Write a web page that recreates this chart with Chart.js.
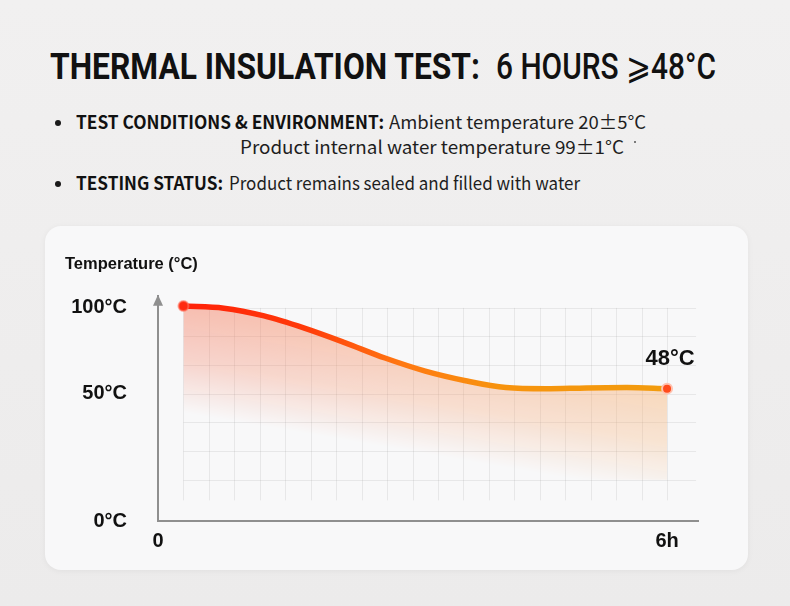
<!DOCTYPE html>
<html>
<head>
<meta charset="utf-8">
<script src="https://cdn.jsdelivr.net/npm/chart.js@4.4.1/dist/chart.umd.min.js"></script>
<style>
  html, body { margin: 0; padding: 0; }
  body {
    width: 790px; height: 606px; overflow: hidden; position: relative;
    background: linear-gradient(#f1f0f0, #ecebeb);
    font-family: "Noto Sans CJK SC", "Noto Sans", sans-serif;
  }
  .line { position: absolute; white-space: nowrap; transform-origin: 0 0; line-height: 1; }
  .ttl { top: 48px; font-family: Roboto, sans-serif; font-size: 37px; color: #111; }
  .txt { font-size: 18px; color: #1e1e1e; }
  .txt.b { font-weight: 700; color: #111; }
  .dot { position: absolute; width: 6px; height: 6px; border-radius: 50%; background: #1a1a1a; }
  .speck { position: absolute; width: 2px; height: 2px; border-radius: 50%; background: #555; }
  #panel {
    position: absolute; left: 45px; top: 226px; width: 703px; height: 344px;
    background: #f8f8f9; border-radius: 16px;
    box-shadow: 0 1px 6px rgba(0,0,0,0.05);
  }
  #chart { position: absolute; left: 0; top: 0; }
</style>
</head>
<body>
<div id="t1" class="line ttl" style="left:50px; font-weight:700;">THERMAL INSULATION TEST:</div>
<div id="t2" class="line ttl" style="left:496px; font-weight:500;">6 HOURS ⩾48°C</div>

<div class="dot" style="left:55px; top:120px;"></div>
<div id="b1a" class="line txt b" style="left:76px; top:112px;">TEST CONDITIONS &amp; ENVIRONMENT:</div>
<div id="b1b" class="line txt" style="left:389px; top:112px;">Ambient temperature 20±5°C</div>
<div id="b2" class="line txt" style="left:240px; top:137px;">Product internal water temperature 99±1°C</div>
<div class="speck" style="left:634px; top:141px;"></div>
<div class="dot" style="left:55px; top:181px;"></div>
<div id="b3a" class="line txt b" style="left:76px; top:173px;">TESTING STATUS:</div>
<div id="b3b" class="line txt" style="left:229px; top:173px;">Product remains sealed and filled with water</div>

<div id="panel"><canvas id="chart" width="703" height="344"></canvas></div>

<script>
// readings (hours, °C as drawn)
const hours = [0, 0.5, 1, 1.5, 2, 2.5, 3, 3.5, 4, 4.5, 5, 5.5, 6];
const temps = [101, 99.8, 95.3, 88.2, 79.8, 70.8, 63.2, 57.6, 53.6, 52.9, 53.4, 53.6, 53];
const endLabel = '48°C';

// axis bounds: the drawn axes start one grid step left / ~24° below the grid
const X_MIN = -6 / 19, X_MAX = 6.384;
const Y_MIN = -24, Y_MAX = 107;
const xTickValues = [X_MIN, 6];
const xTickLabels = ['0', '6h'];
const yTickValues = [Y_MIN, 50, 100];
const yTickLabels = ['0°C', '50°C', '100°C'];

// light grid behind the curve
const gridHours = Array.from({ length: 20 }, (_, k) => k * 6 / 19);
const gridTemps = Array.from({ length: 7 }, (_, k) => 100 - k * 50 / 3);

const AXIS_GRAY = '#8f8f8f';
const LABEL_FONT = { family: 'Liberation Sans, Arial, sans-serif', size: 20, weight: 'bold' };

// fit page text widths to the reference
function fit(id, target) {
  const el = document.getElementById(id);
  el.style.transform = 'none';
  const w = el.getBoundingClientRect().width;
  el.style.transform = 'scaleX(' + (target / w) + ')';
}
function fitAll() {
  fit('t1', 430);
  fit('t2', 220);
  fit('b1a', 308);
  fit('b1b', 257);
  fit('b2', 384);
  fit('b3a', 147);
  fit('b3b', 351);
}
fitAll();
if (document.fonts) document.fonts.ready.then(fitAll);

function lineGradient(chart) {
  const { ctx, chartArea } = chart;
  if (!chartArea) return '#ff5a10';
  const xs = chart.scales.x;
  const g = ctx.createLinearGradient(xs.getPixelForValue(0), 0, xs.getPixelForValue(6), 0);
  g.addColorStop(0, '#ff2008');
  g.addColorStop(0.25, '#ff3a0a');
  g.addColorStop(0.45, '#ff7812');
  g.addColorStop(0.65, '#f7930e');
  g.addColorStop(1, '#f29c0e');
  return g;
}

let fillPattern = null;
function fillGradient(chart) {
  const { chartArea } = chart;
  if (!chartArea) return 'transparent';
  if (fillPattern) return fillPattern;
  const xs = chart.scales.x, ys = chart.scales.y;
  const xL = xs.getPixelForValue(0), xR = xs.getPixelForValue(6);
  const yL = ys.getPixelForValue(temps[0]), yR = ys.getPixelForValue(temps[temps.length - 1]);
  const off = document.createElement('canvas');
  off.width = chart.width; off.height = chart.height;
  const c = off.getContext('2d');
  // hue: reddish on the left, orange on the right
  const hue = c.createLinearGradient(xL, 0, xR, 0);
  hue.addColorStop(0, 'rgba(245,115,85,1)');
  hue.addColorStop(0.5, 'rgba(247,150,100,1)');
  hue.addColorStop(1, 'rgba(247,175,110,1)');
  c.fillStyle = hue;
  c.fillRect(0, 0, off.width, off.height);
  // fade perpendicular to the line joining the two ends
  const s = (yR - yL) / (xR - xL);
  const n = Math.sqrt(1 + s * s);
  const mx = (xL + xR) / 2, my = (yL + yR) / 2;
  const len = 105;
  const a = c.createLinearGradient(mx, my, mx - s / n * len, my + len / n);
  a.addColorStop(0, 'rgba(0,0,0,0.44)');
  a.addColorStop(0.5, 'rgba(0,0,0,0.28)');
  a.addColorStop(1, 'rgba(0,0,0,0)');
  c.globalCompositeOperation = 'destination-in';
  c.fillStyle = a;
  c.fillRect(0, 0, off.width, off.height);
  fillPattern = chart.ctx.createPattern(off, 'no-repeat');
  return fillPattern;
}

const gridPlugin = {
  id: 'lightGrid',
  beforeDatasetsDraw(chart) {
    const { ctx } = chart;
    const xs = chart.scales.x, ys = chart.scales.y;
    ctx.save();
    ctx.strokeStyle = 'rgba(0,0,0,0.065)';
    ctx.lineWidth = 1;
    const yTop = ys.getPixelForValue(100), yBot = ys.getPixelForValue(-12);
    gridHours.forEach(h => {
      const px = Math.round(xs.getPixelForValue(h)) + 0.5;
      ctx.beginPath(); ctx.moveTo(px, yTop); ctx.lineTo(px, yBot); ctx.stroke();
    });
    const xLeft = xs.getPixelForValue(0), xRight = xs.getPixelForValue(6.36);
    gridTemps.forEach(t => {
      const py = Math.round(ys.getPixelForValue(t)) + 0.5;
      ctx.beginPath(); ctx.moveTo(xLeft, py); ctx.lineTo(xRight, py); ctx.stroke();
    });
    ctx.restore();
  }
};

const decorPlugin = {
  id: 'decor',
  afterDraw(chart) {
    const { ctx, chartArea } = chart;
    const xs = chart.scales.x, ys = chart.scales.y;
    ctx.save();
    // arrow head on the y axis
    ctx.fillStyle = AXIS_GRAY;
    ctx.beginPath();
    ctx.moveTo(chartArea.left, chartArea.top - 1);
    ctx.lineTo(chartArea.left - 5, chartArea.top + 10);
    ctx.lineTo(chartArea.left + 5, chartArea.top + 10);
    ctx.closePath();
    ctx.fill();
    // end value label
    const last = temps.length - 1;
    ctx.fillStyle = '#111';
    ctx.font = 'bold 22px "Liberation Sans", Arial, sans-serif';
    ctx.textAlign = 'center';
    ctx.textBaseline = 'middle';
    ctx.fillText(endLabel, xs.getPixelForValue(hours[last]) + 3, ys.getPixelForValue(temps[last]) - 30);
    ctx.restore();
  }
};

const pointR = temps.map((_, i) => (i === 0 || i === temps.length - 1) ? 5 : 0);
const pointFill = temps.map((_, i) => i === 0 ? '#ff2a10' : '#ff4b1c');
const pointEdge = temps.map((_, i) => i === 0 ? 'rgba(255,120,100,0.6)' : '#ffc2b0');

new Chart(document.getElementById('chart'), {
  type: 'line',
  data: {
    datasets: [{
      data: hours.map((h, i) => ({ x: h, y: temps[i] })),
      borderColor: ctx => lineGradient(ctx.chart),
      backgroundColor: ctx => fillGradient(ctx.chart),
      borderWidth: 5.5,
      cubicInterpolationMode: 'monotone',
      fill: 'origin',
      pointRadius: pointR,
      pointBackgroundColor: pointFill,
      pointBorderColor: pointEdge,
      pointBorderWidth: 2,
      clip: false,
    }]
  },
  options: {
    responsive: false,
    animation: false,
    events: [],
    layout: { padding: { left: 20, right: 50, top: 0, bottom: 0 } },
    plugins: {
      legend: { display: false },
      tooltip: { enabled: false },
      title: {
        display: true,
        text: 'Temperature (°C)',
        align: 'start',
        color: '#111',
        font: { family: 'Liberation Sans, Arial, sans-serif', size: 16.5, weight: 'bold' },
        padding: { top: 29, bottom: 21 },
      },
    },
    scales: {
      x: {
        type: 'linear',
        min: X_MIN,
        max: X_MAX,
        grid: { display: false, drawTicks: false },
        border: { display: true, color: AXIS_GRAY, width: 2 },
        afterBuildTicks: s => { s.ticks = xTickValues.map(v => ({ value: v })); },
        afterFit: s => { s.height = 49; },
        ticks: {
          padding: 8,
          color: '#111',
          font: LABEL_FONT,
          maxRotation: 0,
          autoSkip: false,
          callback: (v, i) => xTickLabels[i],
        },
      },
      y: {
        min: Y_MIN,
        max: Y_MAX,
        grid: { display: false, drawTicks: false },
        border: { display: true, color: AXIS_GRAY, width: 2 },
        afterBuildTicks: s => { s.ticks = yTickValues.map(v => ({ value: v })); },
        afterFit: s => { s.width = 93; },
        ticks: {
          padding: 31,
          color: '#111',
          font: LABEL_FONT,
          autoSkip: false,
          callback: (v, i) => yTickLabels[i],
        },
      },
    },
  },
  plugins: [gridPlugin, decorPlugin],
});
</script>
</body>
</html>
